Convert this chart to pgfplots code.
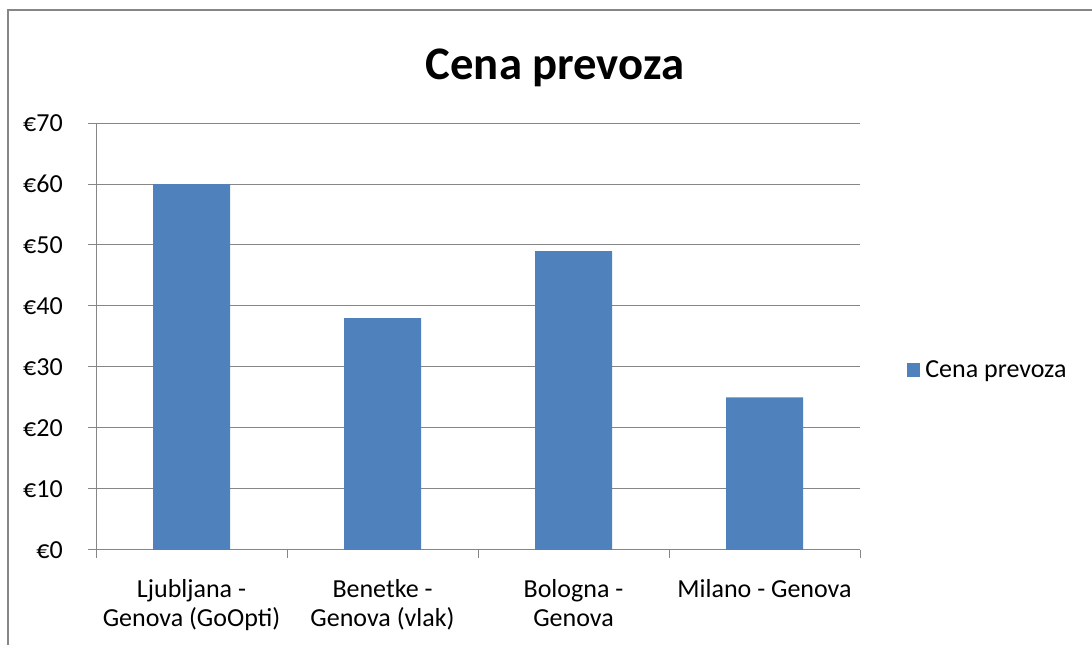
\documentclass[border=0pt]{standalone}
\usepackage{pgfplots}
\pgfplotsset{compat=1.18}
\usepackage{fontspec}
\setmainfont{Carlito}

\definecolor{barblue}{HTML}{4F81BD}
\definecolor{axgray}{HTML}{868686}

\begin{document}
\begin{tikzpicture}
	% page size follows the 1092x645 reference (1px = 0.75pt)
	\useasboundingbox (0,0) rectangle (819pt,483.75pt);
	\draw[axgray, line width=0.9pt] (6pt,0) -- (6pt,476.25pt) -- (819pt,476.25pt);
	\node[anchor=base, font=\fontsize{35}{42}\selectfont\bfseries] at (416.25pt,423.75pt) {Cena prevoza};
	\begin{axis}[
			at={(72pt,71.25pt)},
			anchor=south west,
			scale only axis,
			width=573pt,
			height=320.25pt,
			ybar,
			bar width=57.75pt,
			xmin=-0.5, xmax=3.5,
			ymin=0, ymax=70,
			axis x line*=bottom,
			axis y line*=left,
			axis line style={axgray, line width=0.75pt},
			xtick={0,1,2,3},
			xticklabels={{Ljubljana -\\Genova (GoOpti)},{Benetke -\\Genova (vlak)},{Bologna -\\Genova},{Milano - Genova}},
			minor xtick={-0.5,0.5,1.5,2.5,3.5},
			major x tick style={draw=none},
			minor x tick style={axgray, line width=0.75pt},
			minor tick length=6pt,
			ytick={0,10,...,70},
			yticklabels={€0,€10,€20,€30,€40,€50,€60,€70},
			major y tick style={axgray, line width=0.75pt},
			major tick length=6pt,
			tick align=outside,
			ymajorgrids=true,
			grid style={axgray, line width=0.75pt},
			ticklabel style={font=\fontsize{19.5}{22}\selectfont, text=black},
			xticklabel style={align=center, anchor=north, inner sep=0pt, yshift=-16pt},
			yticklabel style={anchor=east, inner sep=0pt, xshift=-18.75pt},
			legend style={at={(rel axis cs:1.052,0.4215)}, anchor=west, draw=none, fill=none,
					font=\fontsize{19.5}{22}\selectfont},
			legend image code/.code={
					\path (0pt,0pt) (14pt,0pt);
					\fill[barblue] (2pt,-5pt) rectangle (12pt,5pt);},
		]
		\addplot[fill=barblue, draw=none] coordinates {
				(0,60)
				(1,38)
				(2,49)
				(3,25)
			};
		\addlegendentry{Cena prevoza}
	\end{axis}
\end{tikzpicture}
\end{document}
